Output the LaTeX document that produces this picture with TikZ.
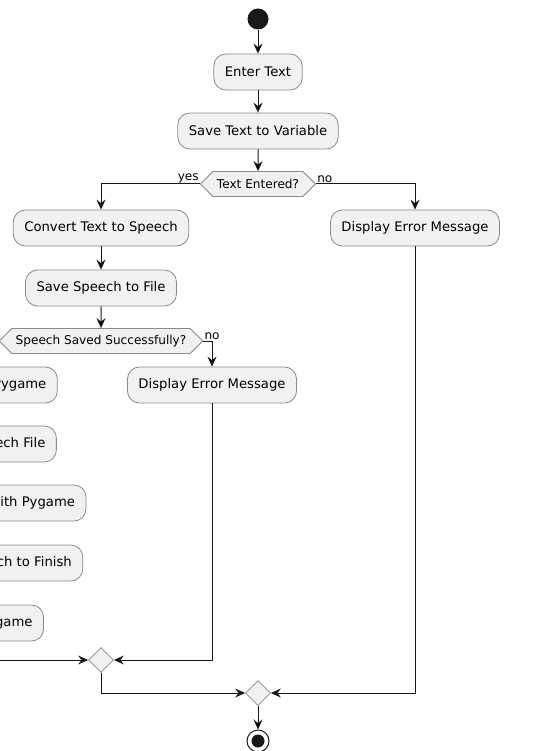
\documentclass[tikz,border=0pt]{standalone}
\usepackage{fontspec}
\setmainfont{DejaVu Sans}
\usetikzlibrary{positioning, shapes.geometric, shapes.symbols, arrows.meta}
\definecolor{actfill}{HTML}{F1F1F1}
\definecolor{actline}{HTML}{8A8A8A}
\definecolor{flowline}{HTML}{181818}
\tikzset{
  act/.style={rectangle, rounded corners=12pt, draw=actline, fill=actfill, line width=0.8pt,
    minimum height=36pt, inner xsep=11pt, font=\fontsize{13.2pt}{15pt}\selectfont},
  decision/.style={signal, signal to=west and east, signal pointer angle=90, draw=actline,
    fill=actfill, line width=0.8pt, minimum height=25pt, inner xsep=4pt, inner ysep=2pt,
    font=\fontsize{12.1pt}{14pt}\selectfont},
  merge/.style={diamond, draw=actline, fill=actfill, line width=0.8pt, minimum width=25pt,
    minimum height=25pt, inner sep=0pt},
  startnode/.style={circle, fill=flowline, minimum size=21pt, inner sep=0pt},
  stopnode/.style={circle, draw=flowline, fill=white, line width=1pt, minimum size=22pt, inner sep=0pt,
    path picture={\fill[flowline] (path picture bounding box.center) circle (6.5pt);}},
  lbl/.style={font=\fontsize{12.1pt}{14pt}\selectfont, inner sep=1pt},
  flow/.style={draw=flowline, line width=1pt}
}

\begin{document}
\begin{tikzpicture}[x=1pt, y=-1pt, node distance=59pt, on grid,
    >={Stealth[length=10pt, width=9pt, inset=3.5pt]}]
   \useasboundingbox (0,0) rectangle (544,751);
   \clip (0,0) rectangle (544,751);
   \fill[white] (0,0) rectangle (544,751);
   % main column
   \node[startnode] (start) at (258,19) {};
   \node[act] (enter) [below=53pt of start] {Enter Text};
   \node[act] (savetext) [below=of enter] {Save Text to Variable};
   \node[decision] (dec1) [below=53pt of savetext] {Text Entered?};
   \node[lbl, anchor=south east] (yes1) at (dec1.west) {yes};
   \node[lbl, anchor=south west] (no1) at (dec1.east) {no};
   % yes branch
   \node[act] (convert) at (101,228) {Convert Text to Speech};
   \node[act] (savespeech) [below=60pt of convert] {Save Speech to File};
   \node[decision] (dec2) [below=53pt of savespeech] {Speech Saved Successfully?};
   \node[lbl, anchor=south east] (yes2) at (dec2.west) {yes};
   \node[lbl, anchor=south west] (no2) at (dec2.east) {no};
   \node[act] (init) at (-10,385) {Initialize Pygame};
   \node[act] (load) [below=of init] {Load Speech File};
   \node[act] (play) [below=of load] {Play Speech with Pygame};
   \node[act] (wait) [below=60pt of play] {Wait for Speech to Finish};
   \node[act] (quit) [below=60pt of wait] {Quit Pygame};
   \node[act] (err2) at (212,385) {Display Error Message};
   % no branch
   \node[act] (err1) at (415,228) {Display Error Message};
   % merges
   \node[merge] (merge1) at (101,660) {};
   \node[merge] (merge2) at (258,693) {};
   \node[stopnode] (stop) at (258,741) {};

   \path[flow,->]
    (start) edge (enter)
    (enter) edge (savetext)
    (savetext) edge (dec1)
    (convert) edge (savespeech)
    (savespeech) edge (dec2)
    (init) edge (load)
    (load) edge (play)
    (play) edge (wait)
    (wait) edge (quit)
    (merge2) edge (stop);
   \draw[flow,->] (dec1.west) -| (convert);
   \draw[flow,->] (dec1.east) -| (err1);
   \draw[flow,->] (dec2.west) -| (init);
   \draw[flow,->] (dec2.east) -| (err2);
   \draw[flow,->] (quit) |- (merge1);
   \draw[flow,->] (err2) |- (merge1);
   \draw[flow,->] (merge1) |- (merge2);
   \draw[flow,->] (err1) |- (merge2);
\end{tikzpicture}
\end{document}
